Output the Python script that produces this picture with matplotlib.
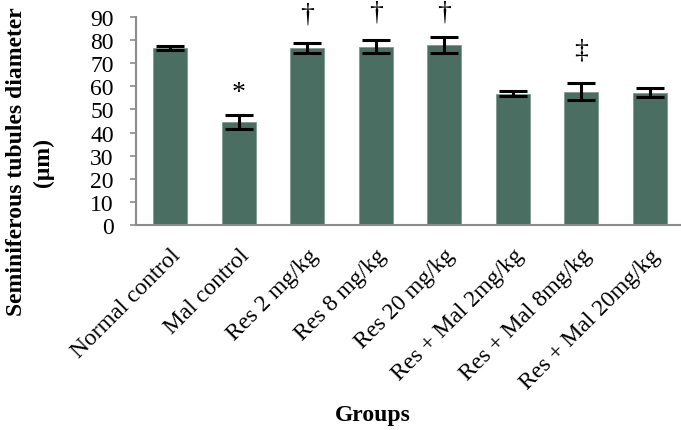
import matplotlib
matplotlib.use('Agg')
import matplotlib.pyplot as plt

# Group names and measured values (mean +/- error)
groups = ['Normal control', 'Mal control', 'Res 2 mg/kg', 'Res 8 mg/kg', 'Res 20 mg/kg',
          'Res + Mal 2mg/kg', 'Res + Mal 8mg/kg', 'Res + Mal 20mg/kg']
means = [76.7, 44.4, 76.6, 77.2, 77.9, 56.8, 57.7, 57.3]
errors = [0.8, 3.0, 2.1, 2.9, 3.6, 1.1, 3.8, 2.1]
marks = ['', '*', '\u2020', '\u2020', '\u2020', '', '\u2021', '']
mark_y = [0, 57.5, 91.5, 92.3, 92.3, 0, 75.7, 0]

plt.rcParams['font.family'] = ['Liberation Serif', 'DejaVu Serif']

fig = plt.figure(figsize=(6.81, 4.31), dpi=100)
ax = fig.add_axes([0.1997, 0.4756, 0.8047, 0.4826])

x = list(range(len(groups)))
ax.bar(x, means, width=0.5, color='#4a6e62', edgecolor='#7f9a90', linewidth=0.6,
       yerr=errors, error_kw=dict(ecolor='black', elinewidth=2.2, capsize=10, capthick=2.2))

for i, m in enumerate(marks):
    if m:
        ax.text(i, mark_y[i], m, ha='center', va='center', fontsize=20, clip_on=False)

ax.set_xlim(-0.5, 7.5)
ax.set_ylim(0, 90)
ax.set_yticks(range(0, 91, 10))
ax.set_xticks(x)
ax.set_xticklabels(groups, rotation=45, ha='right', rotation_mode='anchor', fontsize=17)
ax.tick_params(axis='y', labelsize=17, length=4, color='#8c8c8c', width=1.2, pad=12)
ax.tick_params(axis='x', length=0, pad=14)

for s in ['top', 'right']:
    ax.spines[s].set_visible(False)
for s in ['left', 'bottom']:
    ax.spines[s].set_color('#8c8c8c')
    ax.spines[s].set_linewidth(1.5)

fig.text(0.024, 0.624, 'Seminiferous tubules diameter', rotation=90, ha='center', va='center',
         fontsize=17, fontweight='bold')
fig.text(0.064, 0.624, '(\u03bcm)', rotation=90, ha='center', va='center',
         fontsize=17, fontweight='bold')
fig.text(0.547, 0.035, 'Groups', ha='center', va='center', fontsize=17, fontweight='bold')

fig.savefig('out.png', dpi=100)
